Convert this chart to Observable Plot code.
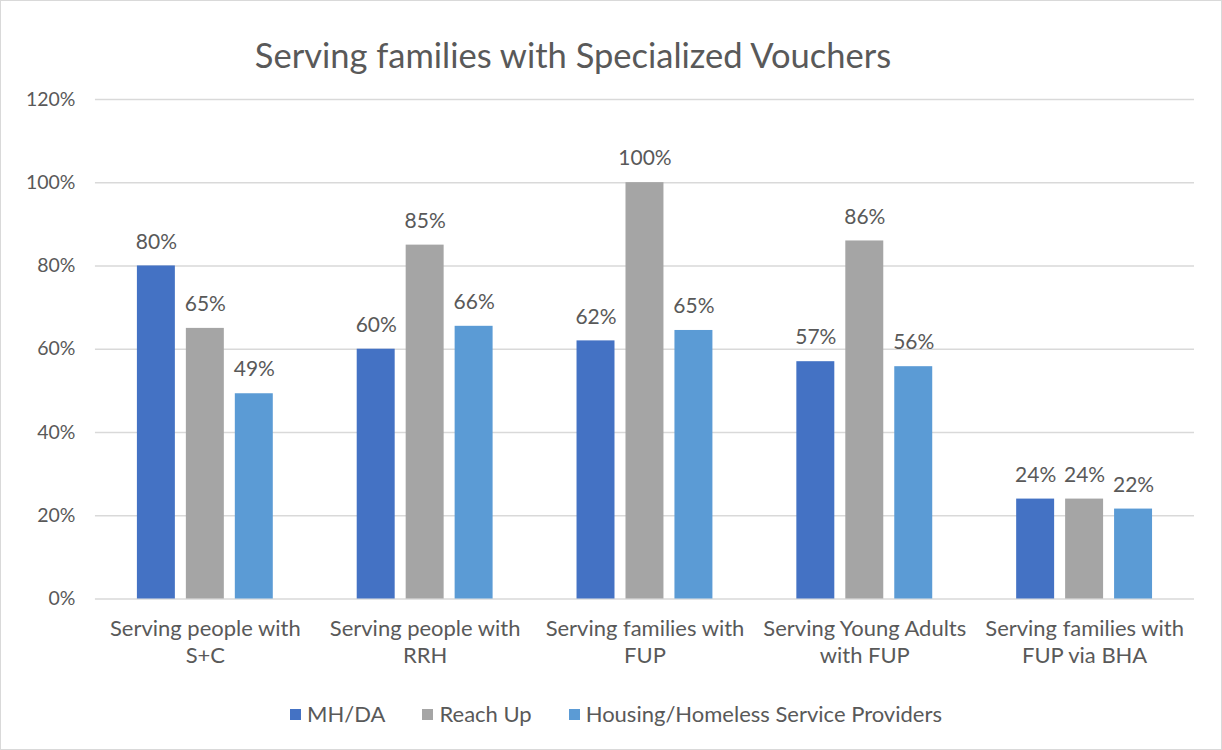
<!DOCTYPE html>
<html>
<head>
<meta charset="utf-8">
<script src="https://cdn.jsdelivr.net/npm/d3@7"></script>
<script src="https://cdn.jsdelivr.net/npm/@observablehq/plot@0.6"></script>
<style>
  html, body { margin: 0; padding: 0; background: #fff; }
  #wrap { position: relative; width: 1220px; height: 748px; border: 1px solid #d9d9d9; overflow: hidden; font-family: Lato, "Liberation Sans", sans-serif; color: #595959; }
  #title { position: absolute; left: 242px; width: 660px; top: 33px; text-align: center; font-size: 34.5px; line-height: 42px; color: #595959; white-space: nowrap; }
  .layer { position: absolute; left: -1px; top: -1px; }
  #legend { position: absolute; top: 699px; left: 0; width: 1230px; display: flex; justify-content: center; gap: 37px; font-size: 22px; line-height: 28px; color: #595959; }
  #legend span.item { display: flex; align-items: center; }
  #legend i { display: inline-block; width: 11px; height: 11px; margin-right: 6px; }
</style>
</head>
<body>
<div id="wrap">
  <div id="title">Serving families with Specialized Vouchers</div>
  <div id="grid" class="layer"></div>
  <div id="chart" class="layer"></div>
  <div id="legend"></div>
</div>
<script>
const categories = [
  "Serving people with\nS+C",
  "Serving people with\nRRH",
  "Serving families with\nFUP",
  "Serving Young Adults\nwith FUP",
  "Serving families with\nFUP via BHA"
];
const seriesNames = ["MH/DA", "Reach Up", "Housing/Homeless Service Providers"];
const seriesColors = ["#4472C4", "#A5A5A5", "#5B9BD5"];
const mhda     = [0.80, 0.60, 0.62, 0.57, 0.24];
const reachUp  = [0.65, 0.85, 1.00, 0.86, 0.24];
const housing  = [0.493, 0.655, 0.645, 0.558, 0.216];
const yTicks = [0, 0.2, 0.4, 0.6, 0.8, 1.0, 1.2];

const seriesValues = [mhda, reachUp, housing];
const data = [];
categories.forEach((c, i) => {
  seriesNames.forEach((s, j) => {
    data.push({category: c, series: s, value: seriesValues[j][i]});
  });
});

const pct = d3.format(".0%");
const font = "Lato, 'Liberation Sans', sans-serif";
const frame = {
  width: 1222, height: 690,
  marginTop: 99, marginBottom: 91, marginLeft: 95, marginRight: 27
};

// Background layer: gridlines spanning the full plot area, plus the y axis
const grid = Plot.plot({
  ...frame,
  style: {fontFamily: font, fontSize: "19px", color: "#595959", background: "transparent"},
  y: {domain: [0, 1.2], label: null},
  marks: [
    Plot.ruleY(yTicks, {stroke: "#d9d9d9", strokeWidth: 1.5}),
    Plot.axisY({ticks: yTicks, tickFormat: pct, tickSize: 0, tickPadding: 20, fontSize: 19.5, fill: "#595959", label: null})
  ]
});
document.getElementById("grid").appendChild(grid);

const chart = Plot.plot({
  ...frame,
  style: {fontFamily: font, fontSize: "18px", color: "#595959", background: "transparent"},
  fx: {domain: categories, paddingInner: 0.375, paddingOuter: 0.185, label: null},
  x: {domain: seriesNames, paddingInner: 0.22, paddingOuter: 0, axis: null},
  y: {domain: [0, 1.2], axis: null},
  color: {domain: seriesNames, range: seriesColors},
  marks: [
    Plot.barY(data, {fx: "category", x: "series", y: "value", fill: "series"}),
    Plot.text(data, {fx: "category", x: "series", y: "value", text: d => pct(d.value), dy: -24, fill: "#595959", fontSize: 21}),
    Plot.axisFx({anchor: "bottom", tickSize: 0, tickPadding: 18, fontSize: 22, fill: "#595959", lineHeight: 1.22, label: null})
  ]
});
document.getElementById("chart").appendChild(chart);

const legend = document.getElementById("legend");
seriesNames.forEach((s, j) => {
  const item = document.createElement("span");
  item.className = "item";
  const sw = document.createElement("i");
  sw.style.background = seriesColors[j];
  item.appendChild(sw);
  item.appendChild(document.createTextNode(s));
  legend.appendChild(item);
});
</script>
</body>
</html>
